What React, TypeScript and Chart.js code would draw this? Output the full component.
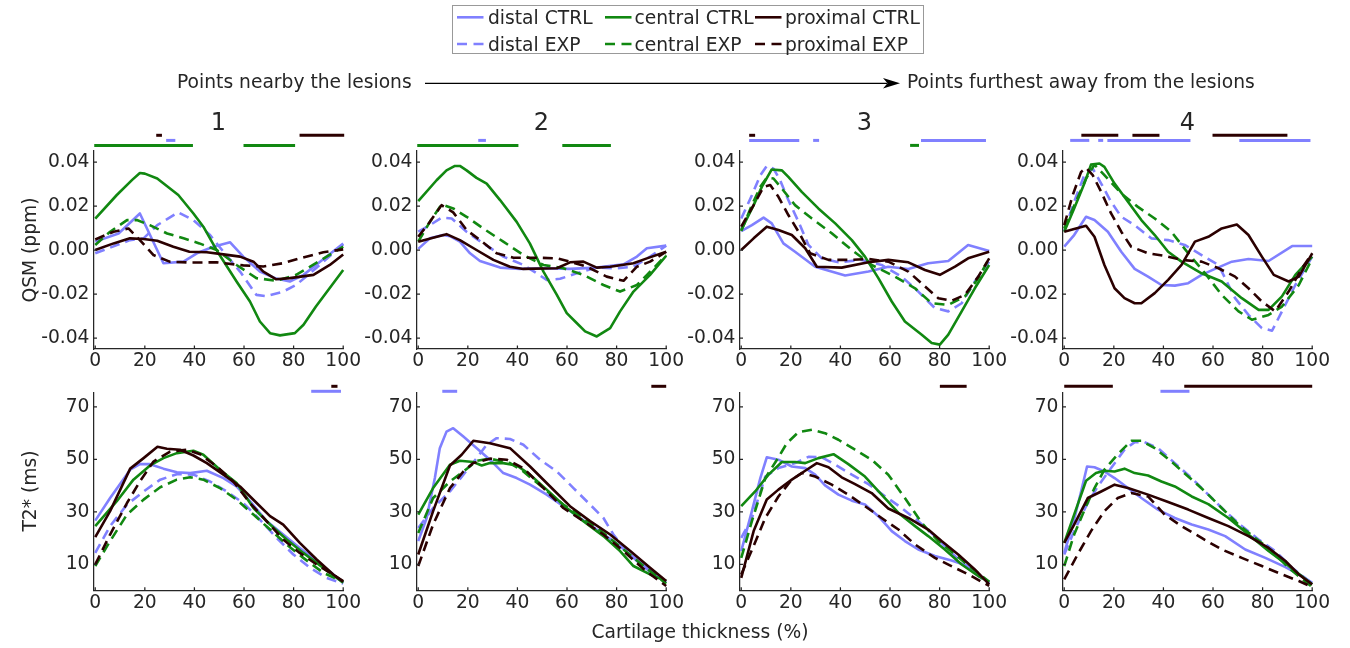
import React, { useEffect, useRef } from 'react';
import { Chart, registerables } from 'chart.js';

Chart.register(...registerables);

type Pt = [number, number];
type Span = [number, number];

const FONT = "'DejaVu Sans', 'Liberation Sans', sans-serif";
const TEXT = '#262626';
const AXIS = '#262626';
const DISTAL = '#8080ff';
const CENTRAL = '#118811';
const PROX = '#2b0000';

const SERIES_LABELS = ['distal CTRL', 'distal EXP', 'central CTRL', 'central EXP', 'proximal CTRL', 'proximal EXP'];
const SERIES_COLORS = [DISTAL, DISTAL, CENTRAL, CENTRAL, PROX, PROX];
const SERIES_DASHED = [false, true, false, true, false, true];

const PANEL_TITLES = ['1', '2', '3', '4'];
const X_TICKS = [0, 20, 40, 60, 80, 100];
const QSM_TICKS = [-0.04, -0.02, 0, 0.02, 0.04];
const T2_TICKS = [10, 30, 50, 70];

// ---------- QSM (ppm), panel 1 ----------
const q1DistalCtrl: Pt[] = [[0,0.0038],[9.4,0.0075],[18,0.0166],[27.5,-0.006],[35.6,-0.0053],[41,-0.0015],[47.6,0.0015],[54.4,0.0035],[59.7,-0.003],[66.4,-0.0098],[73,-0.013],[78.5,-0.0143],[84,-0.0113],[89,-0.0068],[100,0.003]];
const q1DistalExp: Pt[] = [[0,-0.0015],[14,0.0045],[19.5,0.0053],[25,0.0113],[33.5,0.0171],[39.6,0.0136],[46.3,0.0068],[51.7,-0.0008],[58.4,-0.0098],[65,-0.0204],[69,-0.021],[75.8,-0.0189],[81,-0.0159],[89,-0.0083],[100,0.0026]];
const q1CentralCtrl: Pt[] = [[0,0.0143],[8.7,0.025],[15,0.032],[18,0.035],[20,0.0347],[25,0.0325],[33.5,0.025],[39.6,0.0166],[43.6,0.0106],[49.7,-0.0015],[57,-0.0143],[62.4,-0.0234],[66.4,-0.0325],[70.5,-0.0378],[74.5,-0.0388],[80.5,-0.0378],[84,-0.034],[89,-0.0257],[100,-0.0091]];
const q1CentralExp: Pt[] = [[0,0.0023],[6,0.0083],[12.8,0.0136],[16.8,0.0136],[22,0.0113],[29,0.0075],[35.6,0.0053],[42,0.003],[49,0],[57,-0.0068],[65,-0.0128],[73,-0.014],[81,-0.0113],[89,-0.006],[100,0.0015]];
const q1ProxCtrl: Pt[] = [[0,0],[7.4,0.003],[14,0.0053],[19.5,0.005],[25,0.0042],[31.5,0.0015],[38,-0.0008],[45,-0.001],[51.7,-0.002],[58.4,-0.003],[63.8,-0.0053],[67.8,-0.0098],[73,-0.0133],[78.5,-0.0128],[88,-0.0113],[94.6,-0.0068],[100,-0.002]];
const q1ProxExp: Pt[] = [[0,0.0048],[7.4,0.0083],[13.4,0.0098],[18,0.0045],[23.5,-0.0023],[30,-0.0053],[38,-0.0057],[49,-0.0056],[59.7,-0.007],[67.8,-0.0075],[75.8,-0.006],[82.5,-0.0038],[92,-0.001],[100,0.0003]];

// ---------- QSM (ppm), panel 2 ----------
const q2DistalCtrl: Pt[] = [[0,0.0005],[4.7,0.0053],[10,0.0068],[12.8,0.0063],[16.8,0.0038],[20.9,-0.0015],[24.9,-0.005],[33,-0.008],[41,-0.0086],[50.5,-0.0083],[61.2,-0.0086],[72,-0.008],[82.8,-0.0065],[88.2,-0.003],[92.2,0.0008],[100,0.002]];
const q2DistalExp: Pt[] = [[0,0.0083],[4.7,0.0113],[9.4,0.0147],[13.5,0.0143],[19.5,0.0083],[26.2,0.003],[34.3,-0.003],[42.4,-0.0068],[47.8,-0.0106],[51.8,-0.0136],[57.2,-0.0131],[63.9,-0.0106],[72,-0.008],[80,-0.0083],[86.8,-0.0076],[93.5,-0.003],[100,0.002]];
const q2CentralCtrl: Pt[] = [[0,0.0222],[7.4,0.0317],[11.4,0.0362],[14.8,0.0382],[16.8,0.0382],[19.5,0.0362],[23.5,0.0328],[27.6,0.0302],[33,0.0227],[39.7,0.0128],[45,0.003],[50.5,-0.0098],[55.9,-0.0204],[59.9,-0.0287],[63.9,-0.0332],[67.3,-0.037],[72,-0.0393],[77.4,-0.0355],[81.4,-0.0279],[86.8,-0.0189],[93.5,-0.0113],[100,-0.0026]];
const q2CentralExp: Pt[] = [[0,0.0038],[4.7,0.0128],[9.4,0.0207],[14.1,0.0189],[19.5,0.0151],[26.2,0.0098],[34.3,0.0038],[42.4,-0.0023],[50.5,-0.0068],[58.5,-0.0083],[66.6,-0.0113],[74.7,-0.0159],[81.4,-0.0189],[88.2,-0.0159],[94.9,-0.0083],[100,-0.0023]];
const q2ProxCtrl: Pt[] = [[0,0.0038],[6,0.0056],[11.4,0.0072],[16.8,0.0045],[23.5,0],[30.3,-0.0045],[37,-0.0076],[42.4,-0.0086],[55.9,-0.0083],[61.2,-0.0056],[66.6,-0.0053],[72,-0.008],[77.4,-0.0076],[86.8,-0.006],[92.2,-0.0038],[100,-0.0008]];
const q2ProxExp: Pt[] = [[0,0.006],[4.7,0.0128],[9.4,0.0204],[14.1,0.0171],[19.5,0.0091],[24.9,0.0045],[31.6,-0.0015],[38.4,-0.0035],[47.8,-0.0035],[55.9,-0.0038],[61.2,-0.0053],[68,-0.0076],[76,-0.0121],[82.8,-0.014],[88.2,-0.0076],[93.5,-0.0053],[100,-0.0008]];

// ---------- QSM (ppm), panel 3 ----------
const q3DistalCtrl: Pt[] = [[0,0.0086],[4.3,0.0113],[9,0.0147],[12.3,0.0121],[17,0.003],[21.7,-0.0008],[29.8,-0.0076],[41.9,-0.0116],[51.3,-0.0098],[59.3,-0.0076],[67.4,-0.0086],[75.4,-0.006],[83.5,-0.005],[91.5,0.0023],[100,-0.0005]];
const q3DistalExp: Pt[] = [[0,0.0143],[4.3,0.0249],[7.7,0.034],[10.3,0.0382],[13,0.037],[15.7,0.0317],[19,0.0227],[23.1,0.0128],[27.1,0.0023],[32.5,-0.0038],[39.2,-0.0056],[48.6,-0.0045],[56.6,-0.0068],[64.7,-0.0121],[71.4,-0.0189],[78.1,-0.0264],[83.5,-0.0279],[88.9,-0.0242],[94.2,-0.0143],[100,-0.0053]];
const q3CentralCtrl: Pt[] = [[0,0.0091],[5,0.0204],[8.3,0.0287],[12.3,0.0366],[16.4,0.0362],[19,0.0332],[24.4,0.0264],[31.1,0.0189],[37.9,0.0121],[44.6,0.0045],[49.9,-0.003],[55.3,-0.0128],[60.7,-0.0234],[66,-0.0325],[72.8,-0.0385],[76.8,-0.0423],[80.1,-0.043],[83.5,-0.0385],[88.9,-0.0279],[94.2,-0.0174],[100,-0.0068]];
const q3CentralExp: Pt[] = [[0,0.0086],[4.3,0.0204],[7.7,0.0287],[10.3,0.0328],[13,0.0325],[16.4,0.0279],[21.7,0.0204],[28.5,0.0143],[36.5,0.0076],[44.6,0],[52.6,-0.0068],[62,-0.0121],[70.1,-0.0174],[76.8,-0.0242],[83.5,-0.0249],[90.2,-0.0211],[95.6,-0.0128],[100,-0.0038]];
const q3ProxCtrl: Pt[] = [[0,0],[5,0.0053],[10.3,0.0106],[15,0.0091],[20.4,0.0068],[25.8,0.0008],[30.5,-0.0076],[40.5,-0.008],[51.3,-0.0056],[59.3,-0.0045],[67.4,-0.0056],[74.1,-0.0091],[80.1,-0.0113],[86.2,-0.0076],[91.5,-0.0038],[100,-0.0008]];
const q3ProxExp: Pt[] = [[0,0.0106],[5,0.0204],[9,0.0287],[11.7,0.0295],[15,0.0242],[19,0.0159],[23.1,0.0083],[27.8,-0.0015],[35.2,-0.0045],[43.2,-0.0045],[51.3,-0.0041],[59.3,-0.0053],[67.4,-0.0098],[74.1,-0.0166],[79.5,-0.0219],[84.8,-0.0231],[90.2,-0.0204],[95.6,-0.0121],[100,-0.0038]];

// ---------- QSM (ppm), panel 4 ----------
const q4DistalCtrl: Pt[] = [[0,0.0015],[4,0.0068],[8.8,0.0151],[12.2,0.0136],[17.6,0.0083],[23,-0.0008],[28.4,-0.0086],[33.8,-0.0121],[39.2,-0.0159],[44.6,-0.0162],[50,-0.0151],[55.4,-0.0113],[60.8,-0.0086],[67.6,-0.0053],[74.3,-0.0041],[82.4,-0.005],[91.9,0.0018],[100,0.0018]];
const q4DistalExp: Pt[] = [[0,0.0086],[4,0.0219],[8.1,0.034],[11.5,0.037],[14.9,0.0302],[18.9,0.0219],[23,0.0151],[28.4,0.0113],[35.1,0.0053],[41.9,0.0045],[48.6,0.0023],[55.4,-0.0023],[62.2,-0.0068],[68.9,-0.0219],[74.3,-0.0295],[79.7,-0.0355],[83.8,-0.0367],[87.8,-0.0279],[93.2,-0.0159],[100,-0.003]];
const q4CentralCtrl: Pt[] = [[0,0.0083],[4,0.0189],[8.1,0.0302],[10.8,0.0388],[14.2,0.0393],[16.2,0.0378],[20.3,0.0302],[25.7,0.0219],[31.1,0.0136],[36.5,0.0068],[41.9,-0.0008],[47.3,-0.0053],[55.4,-0.0106],[63.5,-0.0143],[71.6,-0.0219],[78.4,-0.0272],[82.4,-0.0272],[87.8,-0.0211],[93.2,-0.0113],[100,-0.003]];
const q4CentralExp: Pt[] = [[0,0.0098],[4.7,0.0219],[8.8,0.0325],[12.2,0.0388],[16.2,0.034],[23,0.0257],[29.7,0.0196],[36.5,0.0143],[43.2,0.0083],[50,-0.0015],[56.8,-0.0106],[63.5,-0.0204],[70.3,-0.0279],[75.7,-0.0317],[82.4,-0.0295],[87.8,-0.0257],[94.6,-0.0159],[100,-0.0038]];
const q4ProxCtrl: Pt[] = [[0,0.0083],[4,0.0095],[8.8,0.011],[12.2,0.006],[16.2,-0.0068],[20.3,-0.0174],[24.3,-0.0219],[28.4,-0.0242],[31.1,-0.0242],[36.5,-0.0196],[41.9,-0.0136],[47.3,-0.0068],[52.7,0.0038],[58.1,0.006],[63.5,0.0098],[69.6,0.0116],[74.3,0.0068],[79.7,-0.003],[84.5,-0.0113],[90.5,-0.0143],[94.6,-0.0121],[100,-0.0015]];
const q4ProxExp: Pt[] = [[0,0.0113],[3.4,0.0249],[6.8,0.0355],[8.8,0.0373],[11.5,0.034],[14.9,0.0264],[18.9,0.0166],[23,0.0083],[27,0.0015],[33.8,-0.0015],[40.5,-0.0027],[47.3,-0.0045],[55.4,-0.0053],[62.2,-0.0083],[68.9,-0.0121],[74.3,-0.0174],[79.7,-0.0234],[85.1,-0.0279],[90.5,-0.0189],[95.9,-0.0083],[100,-0.0015]];

// ---------- T2* (ms), panel 1 ----------
const t1DistalCtrl: Pt[] = [[0,26.7],[6,35.3],[14.1,46.1],[18,48.2],[22.1,48.2],[27.5,46.5],[32.9,45.1],[38.3,44.8],[45,45.7],[51.7,42.9],[57,39.7],[62.4,34.1],[69.1,26.5],[75.8,21.4],[82.5,16.3],[89.3,11.3],[96,6.2],[100,3.0]];
const t1DistalExp: Pt[] = [[0,14.4],[6,24.6],[12.8,32.8],[19.5,37.8],[26.2,42.3],[32.9,44.4],[39.6,44.2],[46.3,41.6],[53,37.8],[59.7,33.4],[66.4,27.1],[73.2,20.1],[79.9,13.8],[86.6,8.7],[93.3,4.9],[100,2.7]];
const t1CentralCtrl: Pt[] = [[0,24.6],[8.7,34.1],[15.4,42.3],[22.1,47.7],[27.5,50.5],[32.9,52.4],[39.6,53.3],[43.6,51.8],[50.3,46.1],[57,41],[63.8,31.5],[70.5,25.2],[77.2,19.5],[83.9,14.4],[92,8.7],[100,3.0]];
const t1CentralExp: Pt[] = [[0,9.4],[6,18.9],[12.8,29],[19.5,34.7],[26.2,39.4],[32.9,42.3],[38.3,43.2],[43.6,42.3],[50.3,39.1],[57,34.7],[63.8,29],[70.5,23.3],[77.2,17.6],[83.9,12.5],[92,6.8],[100,3.4]];
const t1ProxCtrl: Pt[] = [[0,20.4],[6,30.3],[14.1,46.5],[19.5,50.5],[25.1,54.8],[28.9,54.1],[34.2,53.7],[39.6,51.5],[45,48.6],[51.7,44.2],[58.4,39.7],[65.1,33.4],[70.5,28.4],[75.8,25.2],[82.5,18.2],[89.3,11.9],[96,6.2],[100,3.4]];
const t1ProxExp: Pt[] = [[0,10],[6,21.4],[12.8,33.4],[18,41.6],[23.5,49.2],[30.2,53],[36.9,53.7],[42.3,52],[49,47.3],[55.7,41.6],[62.4,33.4],[69.1,26.5],[75.8,19.5],[82.5,14.4],[89.3,10],[100,3.7]];

// ---------- T2* (ms), panel 2 ----------
const t2DistalCtrl: Pt[] = [[0,18.9],[3.4,27.7],[6.7,42.9],[8.7,54.3],[11.4,60.6],[14.1,61.9],[18.2,58.7],[23.6,54.3],[28.9,49.9],[34.3,44.8],[39.7,42.9],[45.1,40.4],[51.8,36.6],[58.5,32.2],[65.3,27.7],[72,23.3],[78.7,18.9],[85.5,13.8],[92.2,8.7],[100,3.0]];
const t2DistalExp: Pt[] = [[0,23.9],[6,31.5],[12.8,37.8],[18.2,44.2],[23.6,50.5],[27.6,55.6],[31.6,58.1],[37,57.8],[42.4,55.6],[49.1,49.9],[55.9,45.4],[62.6,39.1],[69.3,32.8],[74.7,27.7],[78.7,21.4],[82.8,16.3],[88.2,11.3],[94.9,6.2],[100,3.4]];
const t2CentralCtrl: Pt[] = [[0,29],[6,39.1],[12.8,48],[16.8,49.5],[22.2,49],[25.6,47.7],[28.9,48.6],[34.3,48.6],[39.7,47.7],[45.1,44.2],[51.8,38.5],[59.9,31.5],[66.6,26.5],[74.7,20.8],[81.4,15.1],[86.8,9.4],[93.5,6.2],[100,3.7]];
const t2CentralExp: Pt[] = [[0,22],[6,35.3],[12.8,41.6],[18.2,45.4],[23.6,49.5],[28.9,50.3],[37,48.6],[42.4,45.4],[50.5,39.1],[58.5,32.8],[66.6,27.7],[74.7,22],[82.8,15.7],[91.8,8.7],[100,2.7]];
const t2ProxCtrl: Pt[] = [[0,13.8],[6,30.3],[12.8,47.7],[17.5,51.8],[22.2,57.1],[28.9,56.2],[37,54.3],[45.1,47.3],[53.2,39.7],[61.2,32.2],[69.3,26.5],[77.4,21.4],[85.5,15.1],[93.5,8.7],[100,3.7]];
const t2ProxExp: Pt[] = [[0,9.4],[6,25.2],[12.8,39.1],[18.2,45.4],[22.2,48.6],[28.9,50.3],[35.7,49.9],[42.4,46.7],[50.5,39.1],[58.5,31.5],[66.6,26.5],[74.7,21.4],[82.8,15.1],[91.8,7.5],[100,1.8]];

// ---------- T2* (ms), panel 3 ----------
const t3DistalCtrl: Pt[] = [[0,15.1],[4.3,30.3],[7.7,42.9],[10.3,50.8],[15,49.9],[20.4,47.3],[25.8,46.7],[29.8,44.2],[33.8,40.1],[39.2,36.6],[44.6,34.3],[49.9,32.8],[55.3,28.4],[60.7,22.7],[66,18.9],[71.4,15.7],[78.1,13.2],[84.8,11.5],[91.5,9.4],[100,3.0]];
const t3DistalExp: Pt[] = [[0,20.1],[4.3,27.7],[9.7,43.5],[15,46.7],[21.7,48.6],[27.1,51],[32.5,50.8],[37.9,48],[44.6,44.2],[51.3,40.6],[58,36],[64.7,31.5],[71.4,26.5],[78.1,20.8],[84.8,14.4],[92.8,7.5],[100,2.7]];
const t3CentralCtrl: Pt[] = [[0,32.2],[5.6,37.8],[11,44.2],[16.4,49],[21.7,49],[25.8,48.6],[31.1,50.5],[37.2,52],[43.2,48.2],[49.9,43.5],[56.6,36.6],[63.4,29.6],[70.1,24.6],[75.4,20.8],[82.1,15.7],[88.9,10],[95.6,5.6],[100,3.4]];
const t3CentralExp: Pt[] = [[0,12.5],[4.3,26.5],[9.7,42.9],[14.4,49.9],[18.4,56.2],[23.1,60.4],[28.5,61.3],[33.8,60],[39.2,57.5],[45.9,53.7],[52.6,49.9],[59.3,44.2],[66,35.3],[72.8,25.8],[79.5,18.9],[86.2,13.8],[92.8,8.7],[100,3.4]];
const t3ProxCtrl: Pt[] = [[0,4.9],[5,22.7],[10.3,34.7],[15,38.5],[20.4,42.3],[25.8,45.7],[30.5,48.6],[35.2,47],[40.5,43.2],[45.9,40.6],[52.6,37.2],[59.3,31.3],[67.4,27.7],[75.4,23.3],[80.8,18.9],[87.5,13.8],[94.2,8.1],[100,2.4]];
const t3ProxExp: Pt[] = [[0,6.2],[5,17],[9.7,27.7],[15,35.9],[20.4,42.3],[24.4,44.8],[29.8,43.5],[36.5,40.4],[43.2,36.6],[49.9,32.2],[56.6,27.7],[63.4,23.3],[70.1,17.6],[78.1,12.5],[86.2,8.7],[92.8,5.6],[100,1.8]];

// ---------- T2* (ms), panel 4 ----------
const t4DistalCtrl: Pt[] = [[0,14.4],[4,27.1],[6.8,37.8],[9.2,47.3],[12.2,47],[16.2,45.4],[20.3,42.9],[25.7,39.1],[31.1,35.3],[37.8,30.9],[44.6,27.7],[51.4,25.2],[58.1,23.3],[64.9,20.8],[73,15.7],[81.1,12.5],[89.2,9],[95.9,5.6],[100,3]];
const t4DistalExp: Pt[] = [[0,13.8],[4,22.7],[8.8,32.2],[13.5,39.7],[18.9,46.7],[24.3,53.7],[28.4,56.6],[32.4,56.6],[37.8,54.3],[44.6,48.6],[51.4,42.9],[58.1,36.6],[64.9,30.3],[71.6,24.6],[78.4,19.5],[85.1,15.1],[91.9,8.7],[100,2.7]];
const t4CentralCtrl: Pt[] = [[0,18.2],[4,29],[8.8,41.9],[12.8,44.8],[16.2,45.7],[20.3,45.4],[24.3,46.5],[28.4,44.8],[33.8,43.9],[39.2,41.6],[44.6,39.7],[51.4,35.9],[58.1,33],[66.2,27.7],[74.3,21.4],[82.4,15.1],[90.5,9.4],[100,2.4]];
const t4CentralExp: Pt[] = [[0,9.4],[4,21.4],[8.8,32.2],[12.2,39.1],[16.2,46.1],[21.6,52],[27,57.1],[31.1,57.1],[36.5,54.3],[43.2,49.2],[50,43.5],[56.8,37.8],[63.5,31.5],[70.3,25.2],[77,20.1],[83.8,15.1],[90.5,8.7],[100,1.4]];
const t4ProxCtrl: Pt[] = [[0,18.2],[4,25.2],[9.5,35.3],[14.9,37.8],[20.3,40.4],[25.7,39.1],[33.8,36.6],[41.9,33.8],[50,30.9],[58.1,27.7],[66.2,24.6],[74.3,20.8],[82.4,16.3],[89.2,11.3],[94.6,6.2],[100,2.4]];
const t4ProxExp: Pt[] = [[0,4.3],[5.4,13.8],[10.8,22.7],[16.2,30.3],[21.6,35.3],[27,37.2],[33.8,35.9],[40.5,29],[47.3,24.6],[55.4,20.1],[63.5,15.7],[71.6,12.5],[79.7,9.4],[87.8,6.2],[94.6,3.7],[100,1.4]];

// ---------- significance spans (cartilage thickness %) ----------
type Sig = { proximal: Span[]; distal: Span[]; central: Span[] };
const sigQ1: Sig = { proximal: [[24.6, 26.9], [82.4, 100.4]], distal: [[28.6, 32.3]], central: [[-0.4, 39.4], [59.8, 80.6]] };
const sigQ2: Sig = { proximal: [], distal: [[24.2, 27.3]], central: [[-0.4, 40.4], [58.1, 77.7]] };
const sigQ3: Sig = { proximal: [[3.2, 5.6]], distal: [[3.2, 23.4], [29, 31.4], [72.5, 98.7]], central: [[68.1, 71.7]] };
const sigQ4: Sig = { proximal: [[6.9, 21.8], [27.5, 38.4], [59.8, 90]], distal: [[2.4, 10.1], [13.7, 15.7], [17.4, 50.9], [70.6, 99.3]], central: [] };
const sigT1: Sig = { proximal: [[95.2, 97.7]], distal: [[87.1, 99.1]], central: [] };
const sigT2: Sig = { proximal: [[94, 100]], distal: [[9.7, 15.7]], central: [] };
const sigT3: Sig = { proximal: [[80.1, 90.9]], distal: [], central: [] };
const sigT4: Sig = { proximal: [[0, 19.6], [48.4, 100]], distal: [[38.8, 50.5]], central: [] };

const QSM_SERIES: Pt[][][] = [
  [q1DistalCtrl, q1DistalExp, q1CentralCtrl, q1CentralExp, q1ProxCtrl, q1ProxExp],
  [q2DistalCtrl, q2DistalExp, q2CentralCtrl, q2CentralExp, q2ProxCtrl, q2ProxExp],
  [q3DistalCtrl, q3DistalExp, q3CentralCtrl, q3CentralExp, q3ProxCtrl, q3ProxExp],
  [q4DistalCtrl, q4DistalExp, q4CentralCtrl, q4CentralExp, q4ProxCtrl, q4ProxExp],
];
const T2_SERIES: Pt[][][] = [
  [t1DistalCtrl, t1DistalExp, t1CentralCtrl, t1CentralExp, t1ProxCtrl, t1ProxExp],
  [t2DistalCtrl, t2DistalExp, t2CentralCtrl, t2CentralExp, t2ProxCtrl, t2ProxExp],
  [t3DistalCtrl, t3DistalExp, t3CentralCtrl, t3CentralExp, t3ProxCtrl, t3ProxExp],
  [t4DistalCtrl, t4DistalExp, t4CentralCtrl, t4CentralExp, t4ProxCtrl, t4ProxExp],
];
const QSM_SIG = [sigQ1, sigQ2, sigQ3, sigQ4];
const T2_SIG = [sigT1, sigT2, sigT3, sigT4];

// ---------- layout ----------
const FS = 18.7;
const CANVAS_LEFTS = [33, 356, 679, 1002];
const CANVAS_W = 335;
const Y_AXIS_W = 60;
const PAD_LEFT = 0.5;
const PLOT_W = 249.7;
const X_MIN = -0.7;
const X_MAX = 100;

type RowCfg = {
  top: number; height: number; padTop: number; padBottom: number;
  yMin: number; yMax: number; yTicks: number[]; fmt: (v: number) => string;
  offsets: { proximal: number; distal: number; central: number };
};
const TOP_ROW: RowCfg = {
  top: 131, height: 248, padTop: 20, padBottom: 0,
  yMin: -0.045, yMax: 0.045, yTicks: QSM_TICKS, fmt: (v) => v.toFixed(2),
  offsets: { proximal: 15.7, distal: 10.6, central: 5.6 },
};
const BOTTOM_ROW: RowCfg = {
  top: 372, height: 249, padTop: 20.5, padBottom: 0.3,
  yMin: 0, yMax: 75.5, yTicks: T2_TICKS, fmt: (v) => String(v),
  offsets: { proximal: 6.2, distal: 1.2, central: -3.8 },
};

const SIG_COLORS: { key: keyof Sig; color: string }[] = [
  { key: 'proximal', color: PROX },
  { key: 'distal', color: DISTAL },
  { key: 'central', color: CENTRAL },
];

function decorPlugin(sig: Sig, offsets: RowCfg['offsets']) {
  return {
    id: 'decor',
    afterDraw(chart: any) {
      const { ctx, chartArea: a, scales } = chart;
      const xs = scales.x;
      const ys = scales.y;
      ctx.save();
      ctx.strokeStyle = AXIS;
      ctx.lineWidth = 1.25;
      ctx.beginPath();
      xs.ticks.forEach((t: any) => {
        const px = xs.getPixelForValue(t.value);
        ctx.moveTo(px, a.bottom);
        ctx.lineTo(px, a.bottom - 3.5);
      });
      ys.ticks.forEach((t: any) => {
        const py = ys.getPixelForValue(t.value);
        ctx.moveTo(a.left, py);
        ctx.lineTo(a.left + 3.5, py);
      });
      ctx.stroke();
      ctx.lineWidth = 3;
      ctx.lineCap = 'butt';
      SIG_COLORS.forEach(({ key, color }) => {
        const y = a.top - offsets[key];
        ctx.strokeStyle = color;
        sig[key].forEach(([from, to]) => {
          ctx.beginPath();
          ctx.moveTo(xs.getPixelForValue(from), y);
          ctx.lineTo(xs.getPixelForValue(to), y);
          ctx.stroke();
        });
      });
      ctx.restore();
    },
  };
}

function Panel({ col, row, series, sig }: { col: number; row: RowCfg; series: Pt[][]; sig: Sig }) {
  const ref = useRef<HTMLCanvasElement>(null);
  useEffect(() => {
    if (!ref.current) return;
    const tickFont = { family: FONT, size: FS };
    const chart = new Chart(ref.current, {
      type: 'line',
      data: {
        datasets: series.map((pts, i) => ({
          label: SERIES_LABELS[i],
          data: pts.map(([x, y]) => ({ x, y })),
          borderColor: SERIES_COLORS[i],
          backgroundColor: SERIES_COLORS[i],
          borderWidth: 2.6,
          borderDash: SERIES_DASHED[i] ? [10, 6] : [],
          borderJoinStyle: 'round',
          pointRadius: 0,
          fill: false,
          tension: 0,
          clip: false,
          order: 6 - i,
        })),
      },
      options: {
        responsive: false,
        animation: false,
        devicePixelRatio: 1,
        events: [],
        layout: {
          autoPadding: false,
          padding: { left: PAD_LEFT, right: CANVAS_W - PAD_LEFT - Y_AXIS_W - PLOT_W, top: row.padTop, bottom: row.padBottom },
        },
        plugins: { legend: { display: false }, tooltip: { enabled: false } },
        scales: {
          x: {
            type: 'linear',
            min: X_MIN,
            max: X_MAX,
            grid: { display: false, drawTicks: false },
            border: { display: true, color: AXIS, width: 1.25 },
            ticks: { font: tickFont, color: TEXT, padding: 1, maxRotation: 0, autoSkip: false, callback: (v: any) => String(v) },
            afterBuildTicks: (s: any) => { s.ticks = X_TICKS.map((value) => ({ value })); },
            afterFit: (s: any) => { s.height = 30; },
          },
          y: {
            type: 'linear',
            min: row.yMin,
            max: row.yMax,
            grid: { display: false, drawTicks: false },
            border: { display: true, color: AXIS, width: 1.25 },
            ticks: { font: tickFont, color: TEXT, padding: 4, autoSkip: false, callback: (v: any) => row.fmt(Number(v)) },
            afterBuildTicks: (s: any) => { s.ticks = row.yTicks.map((value) => ({ value })); },
            afterFit: (s: any) => { s.width = Y_AXIS_W; },
          },
        },
      } as any,
      plugins: [decorPlugin(sig, row.offsets)],
    });
    return () => chart.destroy();
  }, []);
  return (
    <canvas
      ref={ref}
      width={CANVAS_W}
      height={row.height}
      style={{ position: 'absolute', left: CANVAS_LEFTS[col], top: row.top, width: CANVAS_W, height: row.height }}
    />
  );
}

const LEGEND_LINE_X = [457, 605, 755];
const LEGEND_TEXT_X = [488, 634.5, 785];
const LEGEND_LINE_Y = [17.3, 44];
const LEGEND_TEXT_Y = [18, 45];

function Txt({ x, y, children, size = FS, center = false }: { x: number; y: number; children: any; size?: number; center?: boolean }) {
  return (
    <div
      style={{
        position: 'absolute', left: x, top: y - 15, height: 30, lineHeight: '30px',
        fontFamily: FONT, fontSize: size, color: TEXT, whiteSpace: 'nowrap',
        transform: center ? 'translateX(-50%)' : undefined,
      }}
    >
      {children}
    </div>
  );
}

function VTxt({ x, y, children }: { x: number; y: number; children: any }) {
  return (
    <div
      style={{
        position: 'absolute', left: x, top: y, lineHeight: '30px', height: 30,
        fontFamily: FONT, fontSize: FS, color: TEXT, whiteSpace: 'nowrap',
        transform: 'translate(-50%, -50%) rotate(-90deg)',
      }}
    >
      {children}
    </div>
  );
}

export default function App() {
  const plotCenters = CANVAS_LEFTS.map((l) => l + PAD_LEFT + Y_AXIS_W + PLOT_W / 2);
  return (
    <div style={{ position: 'absolute', left: 0, top: 0, width: 1350, height: 648, background: '#fff', overflow: 'hidden' }}>
      {QSM_SERIES.map((s, i) => (
        <Panel key={'q' + i} col={i} row={TOP_ROW} series={s} sig={QSM_SIG[i]} />
      ))}
      {T2_SERIES.map((s, i) => (
        <Panel key={'t' + i} col={i} row={BOTTOM_ROW} series={s} sig={T2_SIG[i]} />
      ))}

      {/* legend */}
      <div style={{ position: 'absolute', left: 452, top: 5, width: 472, height: 49, border: '1px solid #999', boxSizing: 'border-box', background: 'rgba(255,255,255,0.8)' }} />
      <svg width={1350} height={648} style={{ position: 'absolute', left: 0, top: 0, pointerEvents: 'none' }}>
        {SERIES_LABELS.map((_, i) => {
          const c = Math.floor(i / 2);
          const r = i % 2;
          return (
            <line
              key={i}
              x1={LEGEND_LINE_X[c]} x2={LEGEND_LINE_X[c] + 26.5}
              y1={LEGEND_LINE_Y[r]} y2={LEGEND_LINE_Y[r]}
              stroke={SERIES_COLORS[i]} strokeWidth={2.6}
              strokeDasharray={SERIES_DASHED[i] ? '10 6.5' : undefined}
            />
          );
        })}
        <line x1={425} x2={887} y1={83.3} y2={83.3} stroke="#000" strokeWidth={1.3} />
        <polygon points="900,83.3 883,78 887.5,83.3 883,88.6" fill="#000" />
      </svg>
      {SERIES_LABELS.map((lab, i) => {
        const c = Math.floor(i / 2);
        const r = i % 2;
        return <Txt key={lab} x={LEGEND_TEXT_X[c]} y={LEGEND_TEXT_Y[r]}>{lab}</Txt>;
      })}

      <Txt x={177} y={82}>Points nearby the lesions</Txt>
      <Txt x={907} y={82}>Points furthest away from the lesions</Txt>

      {PANEL_TITLES.map((t, i) => (
        <Txt key={t} x={plotCenters[i]} y={122} size={24} center>{t}</Txt>
      ))}

      <VTxt x={30} y={250}>QSM (ppm)</VTxt>
      <VTxt x={30} y={491}>T2* (ms)</VTxt>
      <Txt x={700} y={632} center>Cartilage thickness (%)</Txt>
    </div>
  );
}
